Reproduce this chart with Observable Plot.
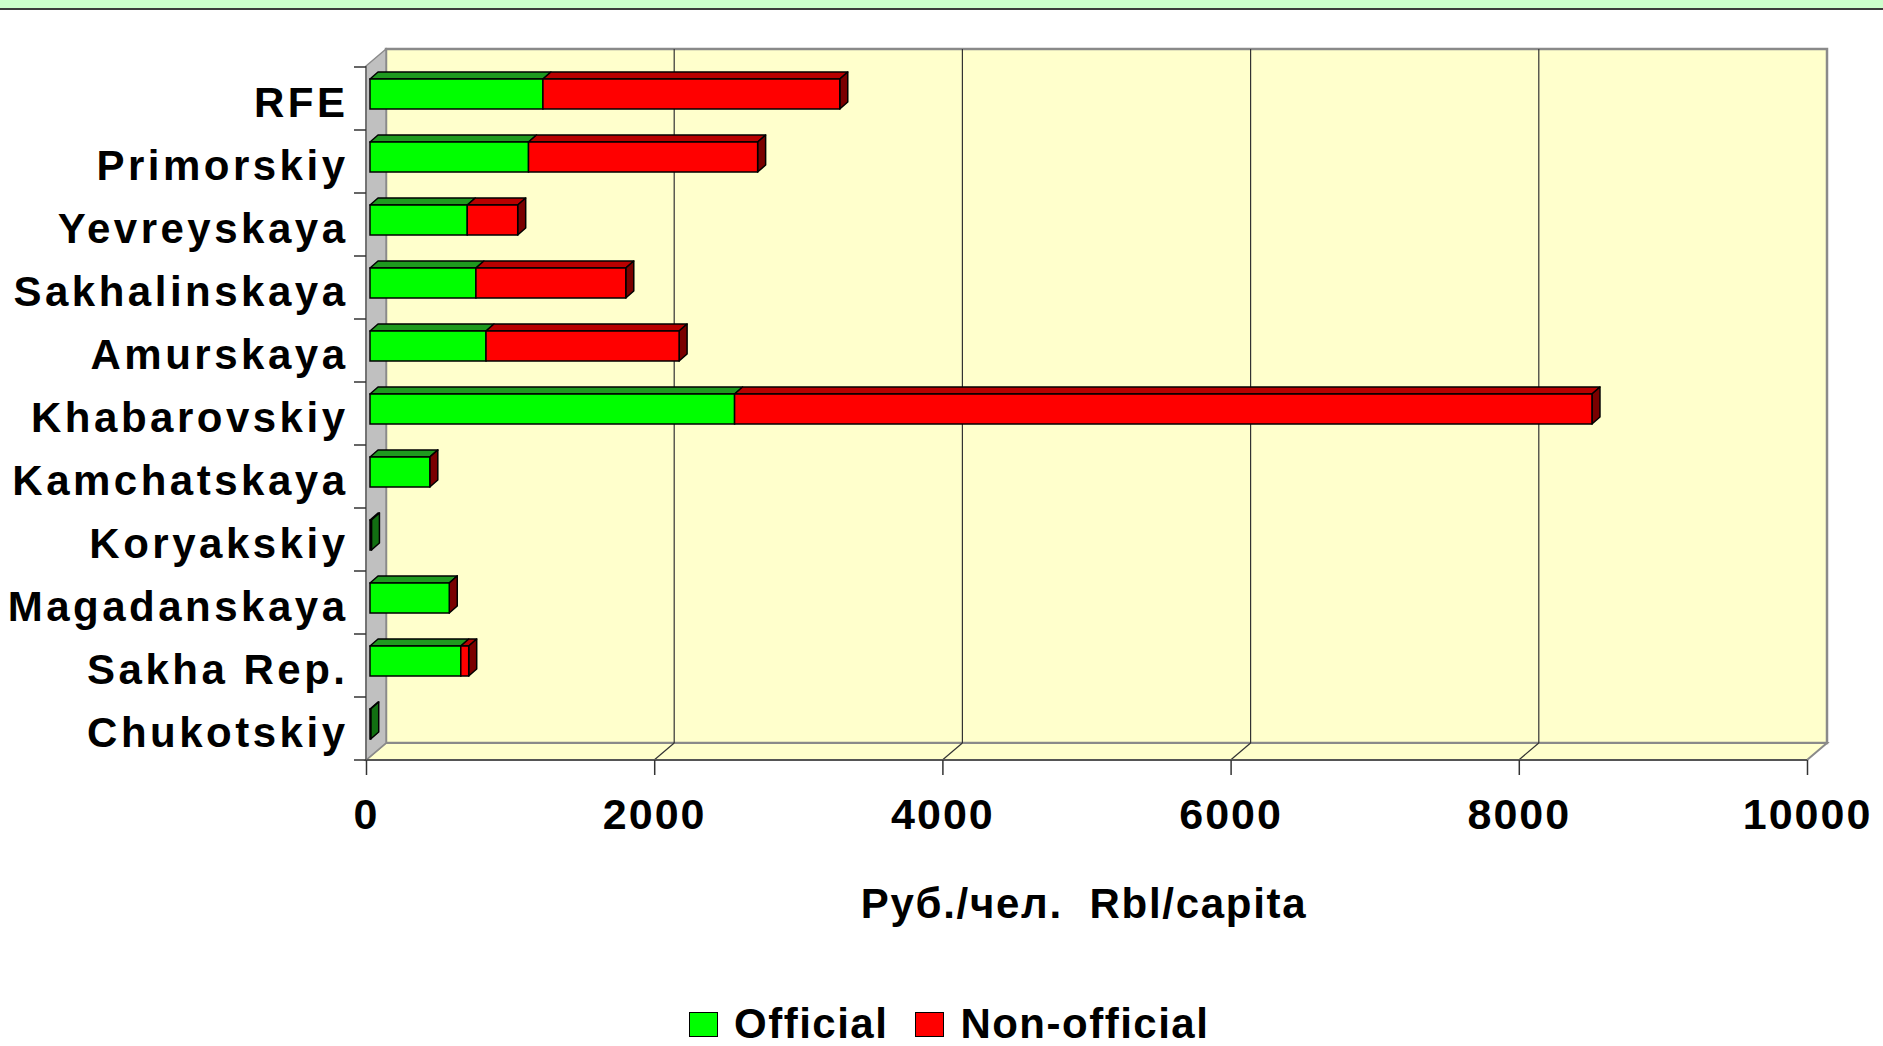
<!DOCTYPE html>
<html>
<head>
<meta charset="utf-8">
<script src="https://cdn.jsdelivr.net/npm/d3@7"></script>
<script src="https://cdn.jsdelivr.net/npm/@observablehq/plot@0.6"></script>
<style>
  html, body { margin: 0; padding: 0; background: #ffffff; }
  #wrap { position: relative; width: 1883px; height: 1046px; font-family: "Liberation Sans", Arial, sans-serif; }
  #band { position: absolute; left: 0; top: 0; width: 1883px; height: 8px; background: #ccffcc; border-bottom: 2px solid #3c3c3c; z-index: 2; }
  #chart { position: absolute; left: 0; top: 0; }
  #legend { position: absolute; top: 1004px; left: 689px; height: 40px; display: flex; align-items: center; font-weight: bold; font-size: 42px; line-height: 40px; color: #000; letter-spacing: 1.5px; }
  #legend .sw { width: 27px; height: 23px; border: 1px solid #000; display: inline-block; }
  #legend .lab { margin-left: 16px; margin-right: 27px; }
  g[aria-label="y-axis tick label"] text { letter-spacing: 3.5px; }
  g[aria-label="x-axis tick label"] text { letter-spacing: 2px; }
  g[aria-label="text"] text { letter-spacing: 1.7px; }
</style>
</head>
<body>
<div id="wrap">
  <div id="band"></div>
  <div id="chart"></div>
  <div id="legend"></div>
</div>
<script>
// ---- data ----
const regions = ["RFE", "Primorskiy", "Yevreyskaya", "Sakhalinskaya", "Amurskaya", "Khabarovskiy",
                 "Kamchatskaya", "Koryakskiy", "Magadanskaya", "Sakha Rep.", "Chukotskiy"];
const official    = [1200, 1100, 675, 735, 805, 2530, 415, 10, 550, 630, 5];
const nonOfficial = [2060, 1590, 350, 1040, 1340, 5950, 0, null, 0, 55, null];
const seriesNames = ["Official", "Non-official"];
const xTicks = [0, 2000, 4000, 6000, 8000, 10000];
const xTitle = "Руб./чел.  Rbl/capita";

// ---- styling ----
const frontColors = ["#00ff00", "#ff0000"];
const topColors   = ["#1f9a1f", "#b80000"];
const sideColors  = ["#127012", "#7a0000"];
const DX = 20, DY = -17;      // depth of the 3D box
const BX = 4;                 // bar offset from front plane
const BDX = 8, BDY = -7;      // depth of bars
const insetTop = 12, insetBottom = 21;

const data = regions.flatMap((r, i) => {
  const rows = [{region: r, series: seriesNames[0], value: official[i]}];
  if (nonOfficial[i] != null) rows.push({region: r, series: seriesNames[1], value: nonOfficial[i]});
  return rows;
});

function line(g, x1, y1, x2, y2, stroke, w) {
  g.append("line").attr("x1", x1).attr("y1", y1).attr("x2", x2).attr("y2", y2)
    .attr("stroke", stroke).attr("stroke-width", w);
}

// walls, floor and gridlines of the 3D box, placed with the plot's scales
function walls(index, scales, values, dims) {
  const x = scales.x, y = scales.y;
  const g = d3.create("svg:g").attr("aria-label", "3d walls");
  const X0 = x(xTicks[0]), X1 = x(xTicks[xTicks.length - 1]);
  const top = dims.marginTop, bot = dims.height - dims.marginBottom;
  // back wall
  g.append("rect").attr("x", X0 + DX).attr("y", top + DY).attr("width", X1 - X0).attr("height", bot - top)
    .attr("fill", "#ffffcc").attr("stroke", "#8a8a8a").attr("stroke-width", 2.5);
  // floor
  g.append("path").attr("d", `M${X0},${bot}L${X1},${bot}L${X1 + DX},${bot + DY}L${X0 + DX},${bot + DY}Z`)
    .attr("fill", "#ffffcc").attr("stroke", "#8a8a8a").attr("stroke-width", 2);
  // left wall
  g.append("path").attr("d", `M${X0},${bot}L${X0},${top}L${X0 + DX},${top + DY}L${X0 + DX},${bot + DY}Z`)
    .attr("fill", "#c0c0c0").attr("stroke", "#8a8a8a").attr("stroke-width", 1.5);
  // gridlines on back wall and floor
  for (const t of xTicks.slice(1, -1)) {
    line(g, x(t) + DX, top + DY, x(t) + DX, bot + DY, "#333", 1.2);
    line(g, x(t), bot, x(t) + DX, bot + DY, "#333", 1.2);
  }
  // front axis edges
  line(g, X0, bot, X1, bot, "#555", 2);
  line(g, X0, top, X0, bot, "#666", 1.5);
  // category boundary ticks
  const edges = regions.map(r => y(r)).concat([bot]);
  for (const e of edges) line(g, X0 - 12, e, X0, e, "#333", 1.5);
  return g.node();
}

// top and end faces of the 3D bars, from the data through the plot's scales
function barFaces(index, scales, values, dims) {
  const x = scales.x, y = scales.y;
  const bw = y.bandwidth ? y.bandwidth() : (dims.height - dims.marginTop - dims.marginBottom) / regions.length;
  const g = d3.create("svg:g").attr("aria-label", "3d bar faces");
  regions.forEach((r, i) => {
    const y0 = y(r) + insetTop, h = bw - insetTop - insetBottom;
    const segs = [[0, official[i], 0]];
    if (nonOfficial[i] != null) segs.push([official[i], official[i] + nonOfficial[i], 1]);
    for (const [a, b, k] of segs) {
      const xa = x(a) + BX, xb = x(b) + BX;
      g.append("path").attr("d", `M${xa},${y0}L${xb},${y0}L${xb + BDX},${y0 + BDY}L${xa + BDX},${y0 + BDY}Z`)
        .attr("fill", topColors[k]).attr("stroke", "#000").attr("stroke-width", 1.5).attr("stroke-linejoin", "round");
    }
    const [, e, k] = segs[segs.length - 1];
    const xe = x(e) + BX;
    g.append("path").attr("d", `M${xe},${y0}L${xe + BDX},${y0 + BDY}L${xe + BDX},${y0 + h + BDY}L${xe},${y0 + h}Z`)
      .attr("fill", sideColors[k]).attr("stroke", "#000").attr("stroke-width", 1.5).attr("stroke-linejoin", "round");
  });
  return g.node();
}

const chart = Plot.plot({
  width: 1883,
  height: 980,
  marginTop: 66,
  marginLeft: 366,
  marginRight: 76,
  marginBottom: 220,
  style: {fontFamily: "'Liberation Sans', Arial, sans-serif", background: "transparent", color: "#000"},
  x: {domain: [0, 10000]},
  y: {domain: regions, padding: 0},
  color: {domain: seriesNames, range: frontColors},
  marks: [
    walls,
    barFaces,
    Plot.barX(data, {
      y: "region", x: "value", fill: "series",
      stroke: "#000", strokeWidth: 1.5,
      insetTop, insetBottom, dx: BX
    }),
    Plot.axisX({ticks: xTicks, tickFormat: d => String(d), tickSize: 15, tickPadding: 23,
      fontSize: 43, fontWeight: "bold", stroke: "#333", strokeWidth: 1.5, fill: "#000", label: null}),
    Plot.axisY({tickSize: 0, tickPadding: 18, fontSize: 42, fontWeight: "bold", fill: "#000", label: null, dy: 5}),
    Plot.text([xTitle], {text: d => d, frameAnchor: "bottom", dy: 157, dx: -3, fontSize: 42, fontWeight: "bold",
      fill: "#000"})
  ]
});
document.getElementById("chart").appendChild(chart);

// legend
const legend = d3.select("#legend");
seriesNames.forEach((s, i) => {
  legend.append("span").attr("class", "sw").style("background", frontColors[i]);
  legend.append("span").attr("class", "lab").text(s);
});
</script>
</body>
</html>
